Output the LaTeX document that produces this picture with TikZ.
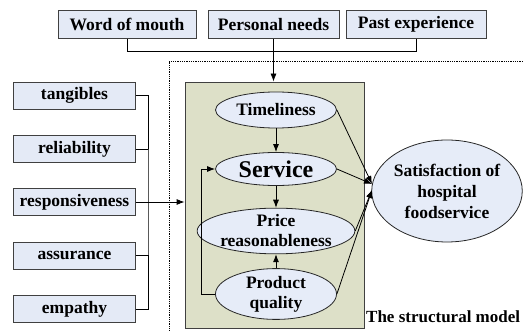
\documentclass[tikz,border=0pt]{standalone}
\usepackage{fontspec}
\setmainfont{Liberation Serif}
\newfontfamily\tnr{Liberation Serif}
\usepackage{tikz}
\usetikzlibrary{shapes.geometric,arrows.meta}
\definecolor{factorfill}{RGB}{228,234,246}
\definecolor{constructfill}{RGB}{230,236,248}
\definecolor{modelfill}{RGB}{221,224,200}

\begin{document}
\begin{tikzpicture}[x=1pt,y=-1pt,
  every node/.style={font=\tnr\bfseries\fontsize{17.5}{20}\selectfont, inner sep=0pt, align=center},
  factor/.style={draw=black!75, line width=0.8pt, fill=factorfill, minimum height=28pt},
  dim/.style={factor, minimum width=122pt, minimum height=27pt},
  construct/.style={ellipse, draw=black!85, line width=0.8pt, fill=constructfill},
  link/.style={line width=0.8pt},
  arr/.style={link, -{Latex[length=8pt,width=6pt]}}]
  \clip (0,0) rectangle (523,331);
  % external influences
  \node[factor, minimum width=138pt] (wom) at (127,24.5) {Word of mouth};
  \node[factor, minimum width=131pt] (pn) at (273.5,24.5) {Personal needs};
  \node[factor, minimum width=140pt] (pe) at (416,24.5) {Past experience};
  % service quality dimensions
  \node[dim] (tan) at (74.5,95.5) {tangibles};
  \node[dim] (rel) at (74.5,149) {reliability};
  \node[dim] (res) at (74.5,202) {responsiveness};
  \node[dim] (ass) at (74.5,255.5) {assurance};
  \node[dim] (emp) at (74.5,309) {empathy};
  % structural model
  \draw[densely dotted, line width=0.8pt] (523,61) -| (169,331);
  \node[draw=black!75, line width=0.8pt, fill=modelfill, minimum width=179pt, minimum height=246pt] (box) at (274.5,205) {};
  \node[construct, minimum width=121pt, minimum height=36pt] (tim) at (276,110) {Timeliness};
  \node[construct, minimum width=121pt, minimum height=33pt, font=\tnr\bfseries\fontsize{24}{26}\selectfont] (ser) at (276,169) {Service};
  \node[construct, minimum width=148pt, minimum height=45pt] (pri) at (276,231) {Price\\reasonableness};
  \node[construct, minimum width=121pt, minimum height=43pt] (pq) at (276,294) {Product\\quality};
  \node[construct, minimum width=150pt, minimum height=102pt, font=\tnr\bfseries\fontsize{17.5}{21}\selectfont] (sat) at (447,191) {Satisfaction of\\hospital\\foodservice};
  \node[anchor=base west, font=\tnr\bfseries\fontsize{17}{20}\selectfont] (tsm) at (366,323) {The structural model};
  \coordinate (hi) at (372,184);
  \coordinate (lo) at (372,190);
  \coordinate (lj) at (148,202);
  % connectors
  \draw[link] (wom.south) -- ++(0,13) -| (pe.south);
  \draw[arr] (pn.south) -- (pn.south |- box.north);
  \draw[link] (tan.east) -| (lj) |- (emp.east);
  \draw[link] (rel.east) -- (rel.east -| lj)
  (ass.east) -- (ass.east -| lj);
  \draw[arr] (res.east) -- (res.east -| box.west);
  \draw[arr] (tim.south) -- (ser.north);
  \draw[arr] (ser.south) -- (pri.north);
  \draw[arr] (pq.north) -- (pri.south);
  \draw[arr] (pq.west) -- ++(-14,0) |- (ser.west);
  \draw[arr] (tim.east) -- (hi);
  \draw[arr] (ser.east) -- (hi);
  \draw[arr] (pri.east) -- (lo);
  \draw[arr] (pq.east) -- (lo);
\end{tikzpicture}
\end{document}
